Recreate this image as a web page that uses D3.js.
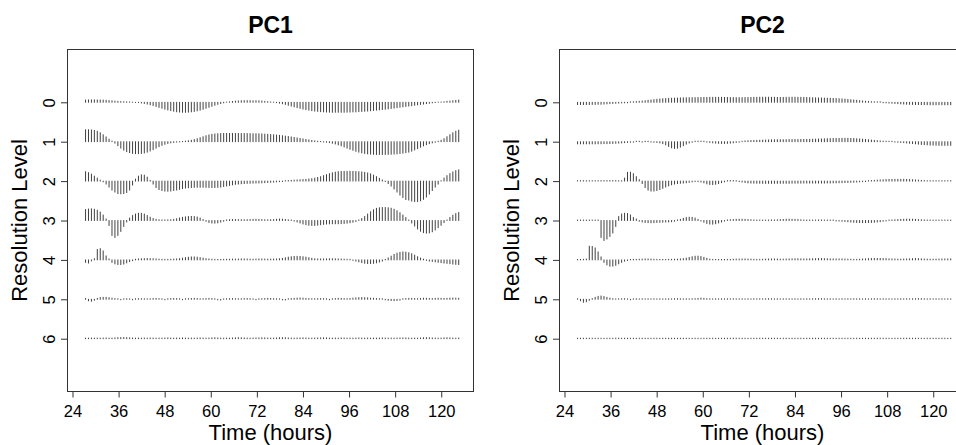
<!DOCTYPE html>
<html>
<head>
<meta charset="utf-8">
<script src="https://cdn.jsdelivr.net/npm/d3@7"></script>
<style>
  body { margin: 0; background: #fff; }
  text { font-family: "Liberation Sans", Arial, sans-serif; fill: #000; }
</style>
</head>
<body>
<script>
// Resolution levels and x ticks
const levels = [0, 1, 2, 3, 4, 5, 6];
const xTicks = [24, 36, 48, 60, 72, 84, 96, 108, 120];
const panelTitles = ["PC1", "PC2"];

// sampling grid of the coefficients (hours)
const tStart = 27.4, tStep = 0.765, nCoef = 128;

// wavelet coefficients, positive = up
const pc1Level0 = [2.3,2.4,2.4,2.4,2.3,2.3,2.2,2.0,1.8,1.5,
  1.2,1.0,0.8,0.6,0.5,0.4,0.2,-0.2,-0.3,-0.7,
  -1.2,-1.8,-2.5,-3.3,-4.2,-5.1,-6.0,-6.9,-7.7,-8.4,
  -9.0,-9.5,-9.8,-10.0,-10.0,-9.9,-9.6,-9.2,-8.6,-7.9,
  -7.0,-6.0,-5.0,-4.0,-3.0,-2.1,-1.3,-0.6,0.2,0.5,
  0.9,1.2,1.4,1.6,1.7,1.7,1.7,1.6,1.6,1.5,
  1.3,1.0,0.7,0.4,0.2,-0.4,-0.9,-1.5,-2.2,-3.0,
  -3.8,-4.6,-5.4,-6.1,-6.8,-7.4,-7.9,-8.4,-8.8,-9.1,
  -9.4,-9.6,-9.8,-9.9,-10,-10,-10,-10,-10,-9.9,
  -9.8,-9.7,-9.6,-9.4,-9.2,-9.0,-8.8,-8.5,-8.2,-7.9,
  -7.6,-7.3,-7.0,-6.6,-6.2,-5.8,-5.4,-5.0,-4.6,-4.2,
  -3.8,-3.4,-3.0,-2.6,-2.2,-1.8,-1.4,-1.0,-0.6,-0.3,
  0.2,0.3,0.6,1.0,1.3,1.6,1.9,2.2];
const pc1Level1 = [12,12,11.8,11.3,10.5,9.0,7.0,4.8,2.5,0.6,
  -1.5,-4,-6.5,-8.5,-10,-11,-11.8,-12,-12,-11.8,
  -11.3,-10.5,-9.3,-8,-6.5,-5,-3.7,-2.6,-1.8,-1.2,
  -0.8,-0.5,-0.3,0.3,0.6,1.0,1.5,2.2,3.0,4.0,
  5.0,6.0,6.8,7.4,7.8,8.0,8.2,8.3,8.3,8.3,
  8.3,8.3,8.3,8.2,8.2,8.2,8.1,8.0,8.0,7.9,
  7.8,7.6,7.4,7.2,7.0,6.7,6.4,6.0,5.6,5.2,
  4.8,4.3,3.8,3.3,2.8,2.3,1.8,1.3,0.9,0.5,
  0.3,-0.3,-0.6,-1.0,-1.6,-2.3,-3.2,-4.2,-5.3,-6.5,
  -7.6,-8.7,-9.7,-10.5,-11.2,-11.8,-12.2,-12.5,-12.7,-12.8,
  -12.8,-12.8,-12.8,-12.7,-12.6,-12.4,-12.2,-11.9,-11.5,-11.0,
  -10.5,-9.5,-8.3,-7.0,-5.6,-4.2,-3.0,-2.0,-1.2,-0.6,
  0.5,1.5,3.0,5.0,7.0,9.0,10.5,11.5];
const pc1Level2 = [9.5,8.5,7.0,5.0,3.0,1.0,-0.8,-3.0,-6.0,-9.0,
  -11.0,-12.5,-12.8,-12.5,-11.5,-9.0,-4.0,2.0,5.0,6.3,
  6.0,4.0,0.8,-3.0,-6.5,-8.5,-9.5,-10.0,-10.2,-10.0,
  -9.5,-9.0,-8.3,-7.6,-7.0,-6.7,-6.5,-6.3,-6.2,-6.2,
  -6.2,-6.3,-6.4,-6.5,-6.5,-6.3,-6.0,-5.5,-5.0,-4.4,
  -3.8,-3.3,-3.0,-2.7,-2.5,-2.3,-2.2,-2.1,-2.0,-1.9,
  -1.8,-1.6,-1.4,-1.2,-1.0,-0.8,-0.6,-0.5,0.5,0.6,
  0.8,1.0,1.2,1.4,1.6,1.8,2.1,2.5,3.0,3.7,
  4.5,5.5,6.5,7.5,8.3,9.0,9.5,9.7,9.8,9.8,
  9.8,9.7,9.6,9.4,9.2,8.8,8.2,7.3,6.0,4.5,
  2.8,1.2,-0.5,-2.5,-5.0,-8.0,-11.0,-14.0,-16.5,-18.5,
  -19.0,-20.0,-20.5,-20.5,-19.8,-18.3,-16.0,-13.0,-9.5,-6.0,
  -3.0,0.5,3.0,5.5,7.5,9.2,10.5,11.3];
const pc1Level3 = [11.0,11.5,11.7,11.3,10.3,8.5,5.5,1.5,-5.0,-15.0,
  -17.0,-15.0,-11.0,-6.0,-1.5,2.5,5.0,6.5,7.3,7.2,
  6.5,5.0,3.3,2.0,1.2,0.8,0.6,0.6,0.7,0.8,
  1.2,1.8,2.5,3.2,3.7,4.0,4.1,4.0,3.5,2.5,
  1.0,-0.8,-2.0,-2.6,-2.7,-2.4,-1.6,-0.8,0.6,0.9,
  1.0,1.0,0.9,0.8,0.8,0.9,1.0,1.2,1.3,1.2,
  1.0,0.8,0.7,0.8,1.0,1.3,1.5,1.4,1.1,0.7,
  0.5,-0.6,-1.5,-2.5,-3.5,-4.3,-4.8,-5.0,-5.0,-4.7,
  -4.3,-3.9,-3.6,-3.4,-3.3,-3.3,-3.3,-3.2,-3.0,-2.7,
  -2.3,-1.8,-1.0,0.6,2.0,4.0,6.5,8.8,10.8,12.2,
  12.8,13.0,13.0,12.8,12.3,11.3,9.8,7.8,5.5,3.0,
  0.5,-2.5,-5.5,-8.5,-10.8,-12.2,-12.7,-12.4,-11.3,-9.5,
  -7.2,-4.8,-2.2,0.5,3.0,5.3,7.0,8.0];
const pc1Level4 = [-2.5,-3.2,-1.0,1.2,10.5,11.3,9.0,4.0,1.0,-2.5,
  -4.0,-4.7,-4.7,-4.2,-3.0,-1.8,-0.8,0.7,1.0,1.2,
  1.3,1.4,1.3,1.2,1.0,0.8,0.7,0.6,0.6,0.7,
  0.8,1.0,1.3,1.8,2.3,2.7,3.0,3.0,2.8,2.3,
  1.8,1.3,1.0,0.7,0.6,0.5,0.5,0.6,0.7,0.7,
  0.8,0.8,0.9,1.0,1.0,0.9,0.8,0.8,0.9,1.0,
  1.0,0.9,0.8,0.8,0.9,1.0,1.2,1.6,2.2,2.8,
  3.2,3.5,3.6,3.5,3.2,2.8,2.2,1.6,1.2,1.0,
  1.0,1.0,1.1,1.2,1.2,1.1,1.0,0.9,0.8,0.7,
  0.6,-0.6,-1.2,-2.0,-2.8,-3.4,-3.7,-3.7,-3.5,-3.0,
  -2.2,-1.2,0.6,2.0,3.8,5.5,6.8,7.6,8.0,7.8,
  7.2,6.2,4.8,3.2,1.8,0.8,-0.6,-1.2,-1.6,-2.0,
  -2.4,-2.8,-3.2,-3.5,-3.8,-4.2,-4.5,-4.7];
const pc1Level5 = [0.8,-1.5,-2.0,-1.0,1.0,1.8,2.0,2.0,1.7,1.2,
  0.8,0.6,-0.5,0.5,0.6,0.5,-0.5,0.6,0.7,0.6,
  0.6,0.5,0.6,0.8,0.9,0.7,0.6,-0.5,0.6,0.8,
  0.9,0.8,0.6,-0.5,0.6,0.7,0.9,1.0,0.8,0.6,
  0.6,0.8,1.0,0.8,0.6,-0.6,-0.8,0.5,0.6,0.7,
  0.8,0.7,0.6,0.6,0.8,0.9,0.7,0.5,-0.5,0.6,
  0.7,0.8,1.0,0.9,0.7,0.6,0.5,-0.6,-0.7,0.6,
  0.8,1.0,1.2,1.3,1.2,1.0,0.8,0.6,0.6,0.7,
  0.8,0.7,0.6,-0.5,0.6,0.8,1.0,1.0,0.8,0.7,
  0.9,1.2,1.5,1.7,1.8,1.7,1.5,1.2,1.0,0.8,
  0.7,0.6,-0.6,-1.0,-1.3,-1.4,-1.2,-0.8,0.6,0.8,
  1.0,1.0,0.8,0.7,0.9,1.1,1.0,0.8,0.8,1.0,
  1.1,1.0,0.9,1.0,1.2,1.3,1.2,1.1];
const pc1Level6 = [0.6,0.6,0.7,0.6,0.7,0.6,0.7,0.8,0.6,0.7,
  0.9,1.1,1.2,1.2,1.1,0.9,0.7,0.6,0.7,0.6,
  0.7,0.6,0.8,0.7,0.6,0.7,0.6,0.8,0.9,0.7,
  0.6,0.7,0.6,0.8,0.7,0.6,0.7,0.6,0.7,0.8,
  0.7,0.6,0.7,0.9,1.0,0.8,0.7,0.6,0.7,0.6,
  0.8,0.9,1.1,1.0,0.8,0.7,0.6,0.7,0.8,0.9,
  1.0,0.9,0.7,0.6,0.7,0.8,1.0,1.1,1.0,0.8,
  0.7,0.6,0.7,0.8,0.9,0.8,0.7,0.6,0.7,0.8,
  0.9,1.0,0.9,0.7,0.6,0.7,0.6,0.8,0.7,0.6,
  0.7,0.6,0.7,0.8,0.7,0.6,0.7,0.6,0.7,0.6,
  0.7,0.8,0.7,0.6,0.7,0.6,0.7,0.8,0.9,0.8,
  0.7,0.6,0.7,0.6,0.8,1.0,1.1,1.0,0.8,0.7,
  0.6,0.7,0.9,1.0,0.9,0.7,0.6,0.7];

const pc2Level0 = [-2.3,-2.3,-2.3,-2.3,-2.3,-2.2,-2.2,-2.0,-2.0,-1.8,
  -1.6,-1.4,-1.2,-1.0,-0.8,-0.6,-0.5,-0.5,0.5,0.6,
  0.8,1.0,1.3,1.6,2.0,2.3,2.7,3.0,3.3,3.6,
  3.8,4.0,4.1,4.2,4.3,4.4,4.5,4.6,4.6,4.7,
  4.7,4.8,4.8,4.9,4.9,5.0,5.0,5.0,5.0,5.0,
  4.9,4.9,4.8,4.8,4.7,4.7,4.7,4.8,4.8,4.9,
  5.0,5.0,5.1,5.1,5.1,5.1,5.0,5.0,4.9,4.9,
  4.9,5.0,5.0,5.1,5.1,5.0,5.0,4.9,4.8,4.7,
  4.6,4.5,4.4,4.3,4.2,4.1,4.0,3.9,3.8,3.6,
  3.4,3.2,2.9,2.6,2.3,2.0,1.7,1.4,1.1,0.9,
  0.7,0.6,0.5,0.5,-0.5,-0.6,-0.8,-1.0,-1.2,-1.4,
  -1.6,-1.8,-2.0,-2.1,-2.2,-2.3,-2.3,-2.4,-2.4,-2.4,
  -2.5,-2.5,-2.5,-2.5,-2.5,-2.5,-2.5,-2.5];
const pc2Level1 = [-2.2,-2.2,-2.2,-2.2,-2.2,-2.2,-2.2,-2.1,-2.1,-2.0,
  -2.0,-1.9,-1.8,-1.6,-1.4,-1.2,-1.0,-0.8,-0.6,-0.5,
  0.5,0.5,-0.5,0.5,0.5,-0.5,-0.6,-0.8,-1.2,-2.0,
  -3.2,-4.8,-6.2,-6.8,-6.5,-5.5,-4.0,-2.5,-1.3,-0.6,
  0.5,0.6,0.6,0.5,-0.5,-0.8,-1.2,-1.5,-1.7,-1.8,
  -1.8,-1.7,-1.5,-1.2,-0.8,-0.5,0.5,0.8,1.0,1.2,
  1.3,1.4,1.5,1.6,1.7,1.8,1.9,2.0,2.0,2.0,
  2.0,2.0,2.1,2.1,2.2,2.2,2.3,2.3,2.3,2.4,
  2.5,2.6,2.7,2.8,2.9,3.0,3.1,3.2,3.3,3.3,
  3.4,3.4,3.4,3.3,3.2,3.0,2.8,2.6,2.3,2.0,
  1.7,1.4,1.1,0.8,0.6,0.5,0.5,0.5,-0.5,-0.6,
  -0.8,-1.0,-1.3,-1.6,-1.9,-2.2,-2.5,-2.8,-3.0,-3.2,
  -3.4,-3.5,-3.6,-3.7,-3.7,-3.7,-3.7,-3.7];
const pc2Level2 = [0.5,0.5,0.5,0.5,0.5,0.5,0.5,0.5,0.6,0.6,
  0.6,0.6,0.6,0.6,0.5,0.5,3.0,8.8,9.0,7.5,
  4.5,1.5,-2.5,-6.5,-9.0,-10.0,-10.0,-9.5,-8.5,-7.3,
  -6.0,-4.8,-3.8,-3.0,-2.5,-2.2,-2.0,-1.7,-1.3,-0.8,
  -0.5,-0.6,-1.0,-1.8,-2.8,-3.4,-3.5,-3.2,-2.5,-1.6,
  -0.8,0.5,0.6,0.6,0.5,-0.6,-1.0,-1.5,-1.8,-2.0,
  -2.1,-2.2,-2.2,-2.3,-2.3,-2.3,-2.3,-2.3,-2.3,-2.2,
  -2.2,-2.2,-2.2,-2.1,-2.1,-2.1,-2.1,-2.0,-2.0,-2.0,
  -2.0,-2.0,-2.0,-2.0,-2.0,-1.9,-1.9,-1.8,-1.8,-1.7,
  -1.6,-1.5,-1.4,-1.3,-1.2,-1.0,-0.8,-0.6,-0.5,0.5,
  0.6,0.8,1.0,1.2,1.4,1.6,1.7,1.8,1.8,1.8,
  1.8,1.8,1.7,1.6,1.4,1.2,1.0,0.8,0.6,0.5,
  0.5,0.5,0.5,0.5,0.5,0.5,0.5,0.5];
const pc2Level3 = [0.5,0.5,0.5,0.5,0.5,0.5,0.5,0.5,-17.0,-20.0,
  -18.5,-16.0,-12.5,-6.0,4.0,6.5,7.3,7.0,5.5,3.0,
  1.5,-0.8,-1.5,-2.0,-2.2,-2.3,-2.2,-2.0,-1.8,-1.7,
  -1.6,-1.5,-1.3,-0.8,0.6,1.2,2.2,3.0,3.3,3.2,
  2.5,1.2,-0.6,-1.8,-3.0,-3.6,-3.7,-3.3,-2.5,-1.5,
  -0.6,0.6,0.8,1.0,1.2,1.3,1.3,1.2,1.0,0.8,
  0.6,0.5,0.5,0.5,0.5,0.5,0.6,0.6,0.7,0.9,
  1.1,1.3,1.4,1.3,1.2,1.0,0.8,0.6,0.5,0.5,
  0.5,0.5,0.6,0.6,0.5,0.5,0.5,0.5,-0.5,-0.6,
  -0.8,-1.0,-1.3,-1.6,-1.8,-2.0,-2.1,-2.2,-2.2,-2.1,
  -2.0,-1.8,-1.5,-1.2,-0.8,-0.5,0.5,0.6,0.8,1.0,
  1.2,1.3,1.4,1.4,1.3,1.2,1.0,0.8,0.6,0.5,
  0.5,0.5,0.5,0.5,0.5,0.5,0.5,0.5];
const pc2Level4 = [0.5,0.5,0.6,0.8,13.7,13.5,12.0,8.0,3.0,-2.5,
  -5.0,-6.3,-6.3,-5.5,-4.0,-2.5,-1.3,-0.6,0.5,0.6,
  0.6,0.7,0.8,1.0,1.0,0.9,0.7,0.6,0.5,0.5,
  0.5,0.6,0.6,0.7,0.8,1.0,1.3,1.8,2.5,3.2,
  3.7,3.8,3.4,2.6,1.6,0.8,0.5,0.5,0.5,0.5,
  0.5,0.5,0.6,0.7,0.8,0.9,1.0,1.0,0.9,0.8,
  0.7,0.6,0.6,0.7,0.8,0.9,1.0,1.0,0.9,0.8,
  0.8,0.9,1.0,1.1,1.2,1.2,1.1,1.0,1.0,1.1,
  1.2,1.3,1.4,1.4,1.3,1.2,1.1,1.0,1.0,1.0,
  1.0,0.9,0.8,0.7,0.6,0.6,0.7,0.9,1.1,1.3,
  1.4,1.5,1.5,1.5,1.4,1.3,1.1,1.0,0.9,0.8,
  0.8,0.9,1.0,1.1,1.3,1.4,1.3,1.1,0.9,0.8,
  0.7,0.7,0.8,0.9,1.0,1.0,1.0,1.1];
const pc2Level5 = [0.6,-1.5,-3.0,-2.5,-1.0,0.8,2.0,3.0,3.3,2.8,
  2.0,1.2,0.7,0.5,0.5,0.6,0.6,0.5,-0.5,0.5,
  0.6,0.5,0.6,0.5,0.6,0.5,0.6,0.5,0.6,0.5,
  0.5,0.6,0.5,0.6,0.7,0.6,0.5,0.6,0.5,0.6,
  0.7,0.9,1.2,1.0,0.7,0.6,0.5,0.6,0.5,0.6,
  0.5,0.6,0.5,0.6,0.5,0.5,0.6,0.5,0.6,0.5,
  0.6,0.5,0.6,0.5,0.6,0.7,0.6,0.5,0.6,0.5,
  0.6,0.5,0.6,0.5,0.6,0.5,0.6,0.5,0.6,0.5,
  0.6,0.7,0.8,0.7,0.6,0.5,0.6,0.5,0.6,0.5,
  0.6,0.5,0.6,0.5,0.6,0.5,0.6,0.5,0.6,0.5,
  0.6,0.7,0.6,0.5,0.6,0.5,0.6,0.5,0.6,0.5,
  0.6,0.5,0.6,0.5,0.6,0.7,0.8,0.7,0.6,0.5,
  0.6,0.5,0.6,0.5,0.6,0.5,0.6,0.5];
const pc2Level6 = [0.5,0.5,0.5,0.5,0.5,0.5,0.5,0.5,0.5,0.5,
  0.5,0.5,0.5,0.6,0.6,0.5,0.5,0.5,0.5,0.5,
  0.5,0.5,0.5,0.5,0.5,0.5,0.5,0.5,0.5,0.5,
  0.5,0.5,0.5,0.5,0.5,0.5,0.5,0.5,0.5,0.5,
  0.5,0.5,0.5,0.5,0.5,0.5,0.5,0.5,0.5,0.5,
  0.5,0.5,0.5,0.5,0.5,0.5,0.5,0.5,0.5,0.5,
  0.5,0.5,0.5,0.5,0.5,0.5,0.5,0.5,0.5,0.5,
  0.5,0.5,0.5,0.5,0.5,0.5,0.5,0.5,0.5,0.5,
  0.5,0.5,0.5,0.5,0.5,0.5,0.5,0.5,0.5,0.5,
  0.5,0.5,0.5,0.5,0.5,0.5,0.5,0.5,0.5,0.5,
  0.5,0.5,0.5,0.5,0.5,0.5,0.5,0.5,0.5,0.5,
  0.5,0.5,0.5,0.5,0.5,0.5,0.5,0.5,0.5,0.5,
  0.5,0.5,0.5,0.5,0.5,0.5,0.5,0.5];

const pc1 = [pc1Level0, pc1Level1, pc1Level2, pc1Level3, pc1Level4, pc1Level5, pc1Level6];
const pc2 = [pc2Level0, pc2Level1, pc2Level2, pc2Level3, pc2Level4, pc2Level5, pc2Level6];

// Layout
const width = 956, height = 445;
const margin = { top: 49.5, left: 67.5 };
const plotW = 406, plotH = 342;
const panelGap = 492;           // distance between the two panels' left edges
const coefPerLevel = 39.4;      // coefficient units that fill one level spacing

const svg = d3.select("body").append("svg")
  .attr("width", width)
  .attr("height", height);

const x = d3.scaleLinear().domain([22.7, 128.4]).range([0, plotW]);
const y = d3.scaleLinear().domain([-1.34, 7.34]).range([0, plotH]);
const times = d3.range(nCoef).map(i => tStart + i * tStep);

[pc1, pc2].forEach((coefs, k) => {
  const g = svg.append("g")
    .attr("transform", `translate(${margin.left + k * panelGap},${margin.top})`);

  // coefficient sticks, one group per level
  levels.forEach(lev => {
    g.append("g")
      .selectAll("line")
      .data(coefs[lev])
      .enter().append("line")
      .attr("x1", (d, i) => x(times[i]))
      .attr("x2", (d, i) => x(times[i]))
      .attr("y1", y(lev))
      .attr("y2", d => y(lev - d / coefPerLevel))
      .attr("stroke", "#2b2b2b")
      .attr("stroke-width", 0.9)
      .attr("stroke-linecap", "round");
  });

  // box
  g.append("rect")
    .attr("width", plotW)
    .attr("height", plotH)
    .attr("fill", "none")
    .attr("stroke", "#333")
    .attr("stroke-width", 1);

  // x axis
  const xAxis = g.append("g")
    .attr("transform", `translate(0,${plotH})`)
    .call(d3.axisBottom(x).tickValues(xTicks).tickSize(6).tickFormat(d3.format("d")));
  xAxis.select(".domain").remove();
  xAxis.selectAll("line").attr("stroke", "#333");
  xAxis.selectAll("text")
    .attr("y", 25.5)
    .attr("dy", null)
    .style("font-size", "16.5px")
    .style("font-family", "'Liberation Sans', Arial, sans-serif");

  // y axis, labels turned like R's default
  const yAxis = g.append("g")
    .call(d3.axisLeft(y).tickValues(levels).tickSize(6.5).tickFormat(d3.format("d")));
  yAxis.select(".domain").remove();
  yAxis.selectAll("line").attr("stroke", "#333");
  yAxis.selectAll("text")
    .attr("x", null)
    .attr("dy", null)
    .attr("text-anchor", "middle")
    .attr("transform", "translate(-12.5,0) rotate(-90)")
    .style("font-size", "16.5px")
    .style("font-family", "'Liberation Sans', Arial, sans-serif");

  // titles
  g.append("text")
    .attr("x", plotW / 2)
    .attr("y", -17)
    .attr("text-anchor", "middle")
    .style("font-size", "23px")
    .style("font-weight", "bold")
    .text(panelTitles[k]);

  g.append("text")
    .attr("x", plotW / 2)
    .attr("y", 390)
    .attr("text-anchor", "middle")
    .style("font-size", "22px")
    .text("Time (hours)");

  g.append("text")
    .attr("transform", `translate(-40.5,${plotH / 2}) rotate(-90)`)
    .attr("text-anchor", "middle")
    .style("font-size", "22px")
    .text("Resolution Level");
});
</script>
</body>
</html>
